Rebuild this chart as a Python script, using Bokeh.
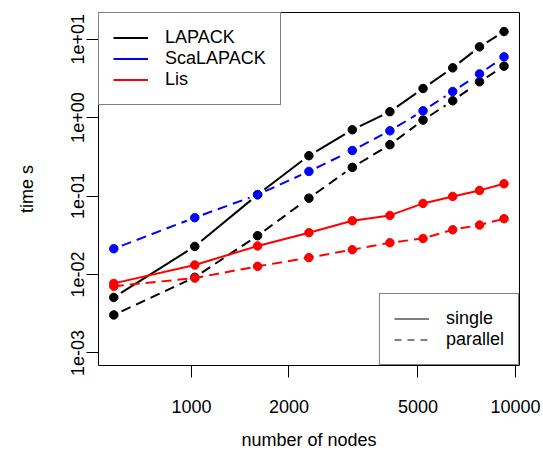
import math
from bokeh.plotting import figure
from bokeh.models import (Range1d, FixedTicker, CustomJSTickFormatter, Legend, LegendItem)
from bokeh.embed import file_html
from bokeh.resources import INLINE

# ---- data ----
nodes = [576, 1024, 1600, 2304, 3136, 4096, 5184, 6400, 7744, 9216]
lapack_single = [5.1e-3, 0.0228, 0.104, 0.327, 0.70, 1.19, 2.35, 4.31, 7.98, 12.5]
lapack_parallel = [3.05e-3, 9.2e-3, 0.0312, 0.094, 0.232, 0.451, 0.929, 1.64, 2.86, 4.53]
scalapack_parallel = [0.0213, 0.053, 0.104, 0.206, 0.381, 0.679, 1.22, 2.15, 3.61, 5.95]
lis_single = [7.7e-3, 0.0132, 0.0231, 0.0341, 0.0484, 0.0566, 0.0805, 0.0989, 0.118, 0.1435]
lis_parallel = [7.1e-3, 9.0e-3, 0.0127, 0.0164, 0.0207, 0.0254, 0.0288, 0.0372, 0.0427, 0.0514]

x_ticks = [1000, 2000, 5000, 10000]
y_ticks = [1e-3, 1e-2, 1e-1, 1e0, 1e1]
series_names = ["LAPACK", "ScaLAPACK", "Lis"]
mode_names = ["single", "parallel"]

# ---- layout ----
W, H = 543, 452
BL, BR, BT, BB = 98, 24, 12, 87
FW, FH = W - BL - BR, H - BT - BB
LX0, LX1 = 2.7132, 4.0123
LY0, LY1 = -3.1605, 1.340
FONT = "Liberation Sans"

p = figure(width=W, height=H, x_axis_type="log", y_axis_type="log",
           x_range=Range1d(10 ** LX0, 10 ** LX1), y_range=Range1d(10 ** LY0, 10 ** LY1),
           output_backend="svg", toolbar_location=None,
           min_border_left=BL, min_border_right=BR, min_border_top=BT, min_border_bottom=BB)
p.grid.visible = False
p.outline_line_color = "black"
p.outline_line_width = 1
p.background_fill_color = "white"
p.border_fill_color = "white"

for ax in (p.xaxis[0], p.yaxis[0]):
    ax.axis_line_color = None
    ax.major_tick_in = 0
    ax.major_tick_out = 12
    ax.major_tick_line_color = "black"
    ax.minor_tick_line_color = None
    ax.major_label_text_font = FONT
    ax.major_label_text_font_size = "18px"
    ax.major_label_text_color = "black"
    ax.axis_label_text_font = FONT
    ax.axis_label_text_font_size = "18px"
    ax.axis_label_text_font_style = "normal"
    ax.axis_label_text_color = "black"

p.xaxis.ticker = FixedTicker(ticks=x_ticks, minor_ticks=[])
p.yaxis.ticker = FixedTicker(ticks=y_ticks, minor_ticks=[])
p.xaxis.formatter = CustomJSTickFormatter(code="return tick.toFixed(0);")
p.yaxis.formatter = CustomJSTickFormatter(code="""
const s = tick.toExponential(0);
const m = s.match(/^(\\d)e([+-])(\\d+)$/);
if (!m) return s;
return m[1] + 'e' + m[2] + (m[3].length < 2 ? '0' + m[3] : m[3]);
""")
p.yaxis.major_label_orientation = "vertical"
p.xaxis.major_label_standoff = 22
p.yaxis.major_label_standoff = 2
p.xaxis.axis_label = "number of nodes"
p.yaxis.axis_label = "time s"
p.xaxis.axis_label_standoff = 14
p.yaxis.axis_label_standoff = 32

KX = FW / (LX1 - LX0)
KY = FH / (LY1 - LY0)
GAP = 8.5


def gapped_segments(xs, ys, gap):
    """R type='b': segments between points, shortened by a gap around each point."""
    sx, sy = [], []
    for (x0, y0), (x1, y1) in zip(zip(xs, ys), zip(xs[1:], ys[1:])):
        lx0, ly0, lx1, ly1 = math.log10(x0), math.log10(y0), math.log10(x1), math.log10(y1)
        dx, dy = (lx1 - lx0) * KX, (ly1 - ly0) * KY
        L = math.hypot(dx, dy)
        if L <= 2 * gap:
            continue
        f = gap / L
        sx.append([10 ** (lx0 + f * (lx1 - lx0)), 10 ** (lx1 - f * (lx1 - lx0))])
        sy.append([10 ** (ly0 + f * (ly1 - ly0)), 10 ** (ly1 - f * (ly1 - ly0))])
    return sx, sy


DASH = "10 6"
PT = 8.5

# LAPACK single (type b, solid)
sx, sy = gapped_segments(nodes, lapack_single, GAP)
p.multi_line(sx, sy, line_color="black", line_width=2)
p.scatter(nodes, lapack_single, size=PT, marker="circle", color="black")

# LAPACK parallel (type b, dashed)
sx, sy = gapped_segments(nodes, lapack_parallel, GAP)
p.multi_line(sx, sy, line_color="black", line_width=2, line_dash=DASH)
p.scatter(nodes, lapack_parallel, size=PT, marker="circle", color="black")

# ScaLAPACK parallel (type b, dashed)
sx, sy = gapped_segments(nodes, scalapack_parallel, GAP)
p.multi_line(sx, sy, line_color="blue", line_width=2, line_dash=DASH)
p.scatter(nodes, scalapack_parallel, size=PT, marker="circle", color="blue")

# Lis single / parallel (type o)
p.line(nodes, lis_single, line_color="red", line_width=2)
p.scatter(nodes, lis_single, size=PT, marker="circle", color="red")
p.line(nodes, lis_parallel, line_color="red", line_width=2, line_dash=DASH)
p.scatter(nodes, lis_parallel, size=PT, marker="circle", color="red")

# legend-only renderers (NaN values: nothing drawn in the plot area)
nan2 = [float("nan")] * 2
d_lap = p.line(nodes[:2], nan2, line_color="black", line_width=2)
d_sca = p.line(nodes[:2], nan2, line_color="blue", line_width=2)
d_lis = p.line(nodes[:2], nan2, line_color="red", line_width=2)
d_single = p.line(nodes[:2], nan2, line_color="black", line_width=1)
d_par = p.line(nodes[:2], nan2, line_color="black", line_width=1, line_dash="7 6")


def style_legend(lg):
    lg.border_line_color = "black"
    lg.border_line_width = 1
    lg.background_fill_color = "white"
    lg.background_fill_alpha = 1
    lg.label_text_font = FONT
    lg.label_text_font_size = "18px"
    lg.label_text_color = "black"
    lg.glyph_width = 35
    lg.glyph_height = 21
    lg.label_height = 21
    lg.spacing = 0
    lg.padding = 14
    lg.margin = 0
    lg.label_standoff = 17


lg1 = Legend(items=[LegendItem(label=series_names[0], renderers=[d_lap]),
                    LegendItem(label=series_names[1], renderers=[d_sca]),
                    LegendItem(label=series_names[2], renderers=[d_lis])],
             location="top_left")
style_legend(lg1)
lg2 = Legend(items=[LegendItem(label=mode_names[0], renderers=[d_single]),
                    LegendItem(label=mode_names[1], renderers=[d_par])],
             location="bottom_right")
style_legend(lg2)
p.add_layout(lg1)
p.add_layout(lg2)

open("out.html", "w").write(file_html(p, INLINE))
